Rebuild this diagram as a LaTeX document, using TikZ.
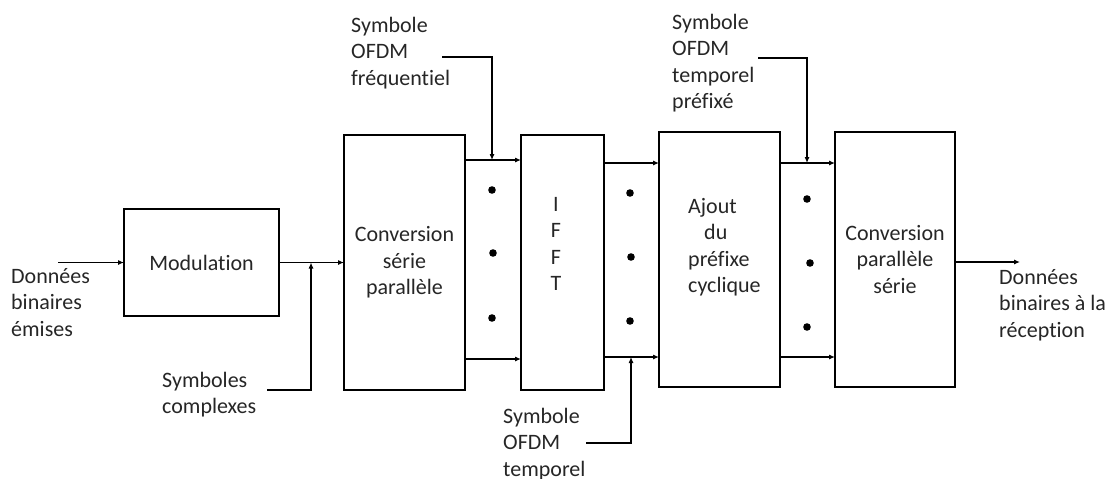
\documentclass[tikz,border=0pt]{standalone}
\usepackage{fontspec}
\setmainfont{Carlito}[Ligatures={NoCommon}]
\usetikzlibrary{arrows.meta}
\begin{document}
\begin{tikzpicture}[x=1pt,y=-1pt,
  every node/.style={font=\fontsize{22}{26.5}\selectfont, text=black!85},
  box/.style={draw, line width=1.1pt, inner sep=0pt, outer sep=0pt, align=center},
  txt/.style={inner sep=0pt, align=left, anchor=north west},
  arr/.style={line width=1.1pt, -{Latex[length=6pt,width=5pt]}},
  dotc/.style={fill=black}
]
\useasboundingbox (0,0) rectangle (1114,479);

% boxes
\node[box, minimum width=155pt, minimum height=107pt] (mod) at (201.5,262.5) {Modulation};
\node[box, minimum width=121pt, minimum height=255pt] (csp) at (404.5,262.5) {Conversion\\série\\parallèle};
\node[box, minimum width=83pt, minimum height=255pt] (ifft) at (562.5,262.5) {};
\node[inner sep=0pt, align=center, anchor=north] (iffttxt) at (556,192.5) {\strut I\\F\\F\\T};
\node[box, minimum width=121pt, minimum height=255pt] (cp) at (719.5,259.5) {};
\node[txt] (cptxt) at (688,194.5) {\strut Ajout\\\hspace{16pt}du\\préfixe\\cyclique};
\node[box, minimum width=120pt, minimum height=255pt] (cps) at (895,259.5) {Conversion\\parallèle\\série};

% labels
\node[txt] (inlbl) at (11,264.5) {\strut Données\\binaires\\émises};
\node[txt] (sclbl) at (162,368.5) {\strut Symboles\\complexes};
\node[txt] (freqlbl) at (351,13.5) {\strut Symbole\\OFDM\\fréquentiel};
\node[txt] (templbl) at (503,404.5) {\strut Symbole\\OFDM\\temporel};
\node[txt] (preflbl) at (672,10.5) {\strut Symbole\\OFDM\\temporel\\préfixé};
\node[txt] (outlbl) at (999,265.5) {\strut Données\\binaires à la\\réception};

% coordinates
\coordinate (inS) at (58,262.5);
\coordinate (outE) at (1020,262);
\coordinate (scS) at (267,390);
\coordinate (scJ) at (311,262.5);
\coordinate (frS) at (442,57);
\coordinate (frJ) at (492,160);
\coordinate (tpS) at (586,443);
\coordinate (tpJ) at (631,357);
\coordinate (pfS) at (758,58);
\coordinate (pfJ) at (807,163);

% main flow
\draw[arr] (inS) -- (mod.west);
\draw[arr] (mod.east) -- (csp.west);
\draw[arr] (scS) -| (scJ);

% gap 1
\draw[arr] (csp.east |- frJ) -- (ifft.west |- frJ);
\draw[arr] ([yshift=-96.5pt]csp.east) -- ([yshift=-96.5pt]ifft.west);
\draw[arr] (frS) -| (frJ);
\fill[dotc] (492,190) circle (3.8pt);
\fill[dotc] (493,253) circle (3.8pt);
\fill[dotc] (492,318) circle (3.8pt);

% gap 2
\draw[arr] (ifft.east |- 0,163) -- (cp.west |- 0,163);
\draw[arr] (ifft.east |- tpJ) -- (cp.west |- tpJ);
\draw[arr] (tpS) -| (tpJ);
\fill[dotc] (630,193) circle (3.8pt);
\fill[dotc] (631,257) circle (3.8pt);
\fill[dotc] (630,321) circle (3.8pt);

% gap 3
\draw[arr] (cp.east |- pfJ) -- (cps.west |- pfJ);
\draw[arr] (cp.east |- 0,357) -- (cps.west |- 0,357);
\draw[arr] (pfS) -| (pfJ);
\fill[dotc] (807,199) circle (3.8pt);
\fill[dotc] (810,263) circle (3.8pt);
\fill[dotc] (807,327) circle (3.8pt);

% output
\draw[arr] (cps.east |- outE) -- (outE);
\end{tikzpicture}
\end{document}
